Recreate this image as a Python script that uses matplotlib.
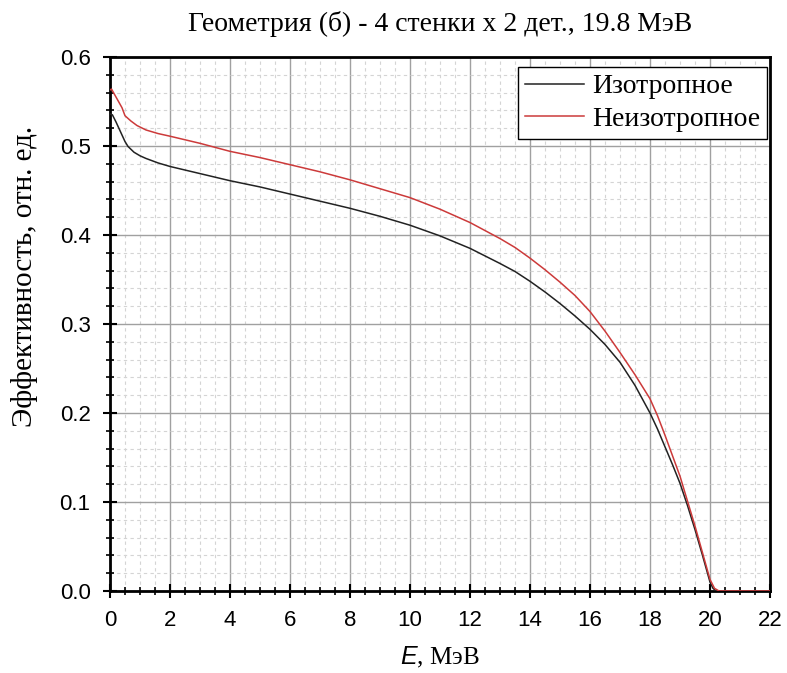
import matplotlib
matplotlib.use("Agg")
import matplotlib.pyplot as plt
from matplotlib.ticker import MultipleLocator

E_iso = [0, 0.08, 0.2, 0.35, 0.5, 0.6, 0.8, 1.0, 1.2, 1.6, 2, 3, 4, 5, 6, 7, 8, 9, 10, 11, 12,
         13, 13.5, 14, 14.5, 15, 15.5, 16, 16.5, 17, 17.5, 18, 18.25, 18.5, 18.75, 19, 19.25,
         19.5, 19.75, 20, 20.1, 20.2, 21, 22]
eff_iso = [0.536, 0.535, 0.527, 0.516, 0.505, 0.4995, 0.493, 0.489, 0.486, 0.481, 0.477, 0.469,
           0.461, 0.454, 0.446, 0.438, 0.430, 0.421, 0.411, 0.399, 0.385, 0.368, 0.359, 0.348,
           0.336, 0.323, 0.309, 0.294, 0.277, 0.257, 0.231, 0.200, 0.182, 0.162, 0.142, 0.121,
           0.096, 0.069, 0.040, 0.010, 0.003, 0.0, 0.0, 0.0]

E_aniso = [0, 0.05, 0.15, 0.3, 0.4, 0.5, 0.7, 0.9, 1.2, 1.6, 2, 3, 4, 5, 6, 7, 8, 9, 10, 11, 12,
           13, 13.5, 14, 14.5, 15, 15.5, 16, 16.5, 17, 17.5, 18, 18.25, 18.5, 18.75, 19, 19.25,
           19.5, 19.75, 20, 20.15, 20.3, 21, 22]
eff_aniso = [0.563, 0.564, 0.558, 0.549, 0.543, 0.534, 0.528, 0.523, 0.518, 0.514, 0.511, 0.503,
             0.494, 0.487, 0.479, 0.471, 0.462, 0.452, 0.442, 0.429, 0.414, 0.396, 0.386, 0.374,
             0.361, 0.347, 0.332, 0.314, 0.292, 0.268, 0.243, 0.216, 0.197, 0.175, 0.152, 0.129,
             0.101, 0.073, 0.043, 0.013, 0.003, 0.0, 0.0, 0.0]

labels = ["Изотропное", "Неизотропное"]
title = "Геометрия (б) - 4 стенки x 2 дет., 19.8 МэВ"

plt.rcParams['mathtext.fontset'] = 'custom'
plt.rcParams['mathtext.it'] = 'Liberation Sans:italic'
plt.rcParams['mathtext.rm'] = 'Liberation Serif'

fig = plt.figure(figsize=(7.87, 6.73), dpi=100)
ax = fig.add_axes([110/787, 82/673, 660/787, 534/673])

ax.plot(E_iso, eff_iso, color='#222222', lw=1.1, label=labels[0], zorder=3)
ax.plot(E_aniso, eff_aniso, color='#cc3a3a', lw=1.1, label=labels[1], zorder=3)

ax.set_xlim(0, 22)
ax.set_ylim(0, 0.6)
ax.xaxis.set_minor_locator(MultipleLocator(0.5))
ax.yaxis.set_minor_locator(MultipleLocator(0.02))
ax.set_xticks(range(0, 23, 2))
ax.set_xticklabels([str(v) for v in range(0, 23, 2)])
ax.set_yticks([0, 0.1, 0.2, 0.3, 0.4, 0.5, 0.6])
ax.set_yticklabels(["0.0", "0.1", "0.2", "0.3", "0.4", "0.5", "0.6"])

ax.grid(which='major', color='#a0a0a0', lw=1.0, ls='-')
ax.grid(which='minor', color='#d4d4d4', lw=0.8, ls=(0, (3, 3)))
ax.set_axisbelow(True)

for s in ax.spines.values():
    s.set_linewidth(2.0)
ax.tick_params(which='major', direction='inout', length=10, width=1.5, labelsize=16)
ax.tick_params(axis='y', which='major', pad=9)
ax.tick_params(axis='x', which='major', pad=9)
ax.tick_params(which='minor', direction='inout', length=6, width=1.2)
for lab in ax.get_xticklabels() + ax.get_yticklabels():
    lab.set_family('Liberation Sans')

ax.set_title(title, family='Liberation Serif', fontsize=20, pad=19)
ax.set_ylabel("Эффективность, отн. ед.", family='Liberation Serif', fontsize=21)
ax.yaxis.set_label_coords(-72/660, 0.59)
ax.set_xlabel(r"$\mathit{E}$, МэВ", family='Liberation Serif', fontsize=18, labelpad=10)

leg = ax.legend(loc='upper right', bbox_to_anchor=(657/660, 524/534),
                prop={'family': 'Liberation Serif', 'size': 20},
                fancybox=False, frameon=True, edgecolor='black', framealpha=1,
                borderaxespad=0.0, handlelength=2.1, handletextpad=0.3,
                borderpad=0.25, labelspacing=0.25)
leg.get_frame().set_linewidth(1.0)

fig.savefig("out.png", dpi=100)
